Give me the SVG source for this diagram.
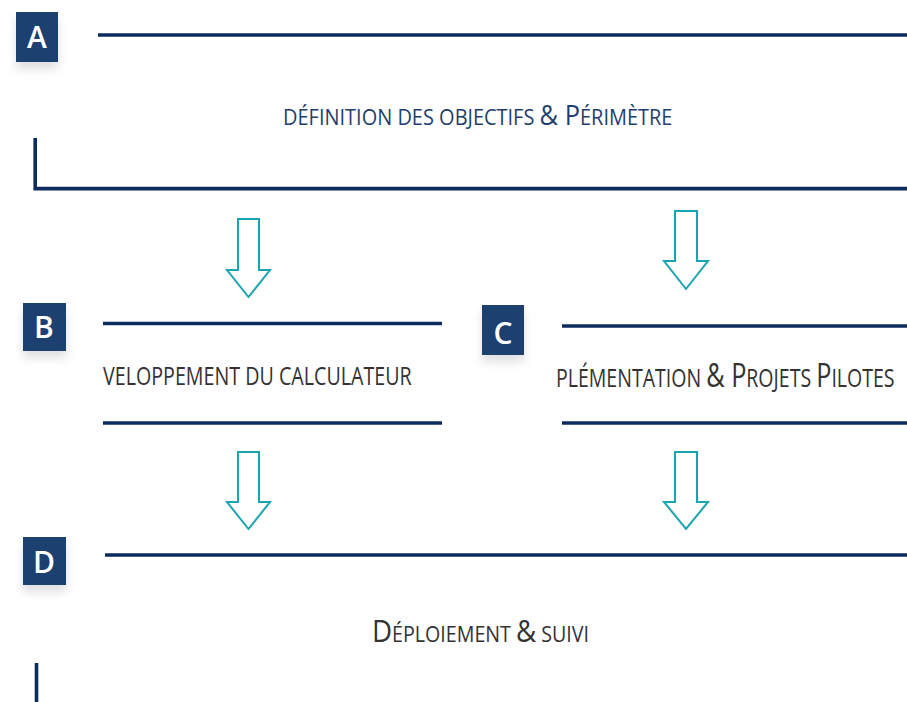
<svg xmlns="http://www.w3.org/2000/svg" width="907" height="702" viewBox="0 0 907 702">
<style>
.line{stroke:#0b2c5c;stroke-width:3.6;fill:none}
.badge{fill:#1b4170}
.bl{fill:#ffffff;font-family:"Open Sans","Noto Sans",sans-serif;font-weight:600;font-size:30px;text-anchor:middle}
.arrow{fill:#ffffff;stroke:#1aa4b2;stroke-width:2;stroke-linejoin:miter}
.ta{fill:#1e3f6e;font-family:"Open Sans","Noto Sans",sans-serif}
.tg{fill:#333333;font-family:"Open Sans","Noto Sans",sans-serif}
</style>
<defs>
<filter id="sh" x="-50%" y="-50%" width="200%" height="220%">
<feDropShadow dx="0" dy="7" stdDeviation="5" flood-color="#000000" flood-opacity="0.12"/>
</filter>
</defs>
<rect width="907" height="702" fill="#ffffff"/>
<g id="connectors">
<polygon class="arrow" points="238,219 259,219 259,270 270,270 248.5,297 227,270 238,270"/>
<polygon class="arrow" points="675,211 697,211 697,261 708,261 686,289 664,261 675,261"/>
<polygon class="arrow" points="238,452 259,452 259,502 270,502 248.5,529 227,502 238,502"/>
<polygon class="arrow" points="675,452 697,452 697,502 708,502 686,529 664,502 675,502"/>
</g>
<g id="nodeA">
<line class="line" x1="98" y1="35" x2="907" y2="35"/>
<polyline class="line" points="35.2,138 35.2,188.6 907,188.6"/>
<rect class="badge" x="16" y="12" width="42" height="50" filter="url(#sh)"/>
<text class="bl" x="37" y="48">A</text>
<text class="ta" x="0" y="125" transform="translate(283,0) scale(0.908,1)"><tspan font-size="22">DÉFINITION DES OBJECTIFS </tspan><tspan font-size="28">&amp; P</tspan><tspan font-size="22">ÉRIMÈTRE</tspan></text>
</g>
<g id="nodeB">
<line class="line" x1="103" y1="323.5" x2="442" y2="323.5"/>
<line class="line" x1="103" y1="423" x2="442" y2="423"/>
<rect class="badge" x="23" y="303" width="43" height="48" filter="url(#sh)"/>
<text class="bl" x="44" y="338">B</text>
<text class="tg" x="0" y="385" font-size="25.5" transform="translate(103,0) scale(0.772,1)">VELOPPEMENT DU CALCULATEUR</text>
</g>
<g id="nodeC">
<line class="line" x1="562" y1="326" x2="907" y2="326"/>
<line class="line" x1="562" y1="423" x2="907" y2="423"/>
<rect class="badge" x="482" y="305" width="42" height="50" filter="url(#sh)"/>
<text class="bl" x="503" y="344">C</text>
<text class="tg" x="0" y="387" transform="translate(556,0) scale(0.766,1)"><tspan font-size="25.5">PLÉMENTATION </tspan><tspan font-size="33">&amp; P</tspan><tspan font-size="25.5">ROJETS </tspan><tspan font-size="33">P</tspan><tspan font-size="25.5">ILOTES</tspan></text>
</g>
<g id="nodeD">
<line class="line" x1="105" y1="555" x2="907" y2="555"/>
<line class="line" x1="36.5" y1="663" x2="36.5" y2="702"/>
<rect class="badge" x="23" y="537" width="43" height="48" filter="url(#sh)"/>
<text class="bl" x="44" y="572.5">D</text>
<text class="tg" x="0" y="642" transform="translate(372,0) scale(0.893,1)"><tspan font-size="31">D</tspan><tspan font-size="22">ÉPLOIEMENT </tspan><tspan font-size="31">&amp;</tspan><tspan font-size="22"> SUIVI</tspan></text>
</g>
</svg>
